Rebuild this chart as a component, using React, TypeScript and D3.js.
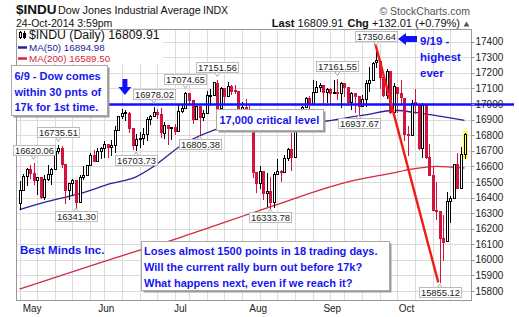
import React from "react";
import * as d3 from "d3";

const dates = [
  "04-28","04-29","04-30",
  "05-01","05-02","05-05","05-06","05-07","05-08","05-09","05-12","05-13","05-14","05-15","05-16","05-19","05-20","05-21","05-22","05-23","05-27","05-28","05-29","05-30",
  "06-02","06-03","06-04","06-05","06-06","06-09","06-10","06-11","06-12","06-13","06-16","06-17","06-18","06-19","06-20","06-23","06-24","06-25","06-26","06-27","06-30",
  "07-01","07-02","07-03","07-07","07-08","07-09","07-10","07-11","07-14","07-15","07-16","07-17","07-18","07-21","07-22","07-23","07-24","07-25","07-28","07-29","07-30","07-31",
  "08-01","08-04","08-05","08-06","08-07","08-08","08-11","08-12","08-13","08-14","08-15","08-18","08-19","08-20","08-21","08-22","08-25","08-26","08-27","08-28","08-29",
  "09-02","09-03","09-04","09-05","09-08","09-09","09-10","09-11","09-12","09-15","09-16","09-17","09-18","09-19","09-22","09-23","09-24","09-25","09-26","09-29","09-30",
  "10-01","10-02","10-03","10-06","10-07","10-08","10-09","10-10","10-13","10-14","10-15","10-16","10-17","10-20","10-21","10-22","10-23","10-24",
];

const opens = [
  16363, 16449, 16535,
  16581, 16560, 16510, 16530, 16401, 16519, 16550, 16584, 16696, 16716, 16613, 16446, 16490, 16511, 16374, 16533, 16544, 16607, 16676, 16634, 16699,
  16718, 16742, 16722, 16737, 16836, 16924, 16943, 16945, 16843, 16734, 16776, 16781, 16808, 16907, 16921, 16946, 16937, 16817, 16867, 16846, 16852,
  16828, 16956, 16977, 17068, 17024, 16907, 16985, 16915, 16944, 17055, 17061, 17138, 16977, 17100, 17052, 17113, 17087, 17084, 16961, 16983, 16912, 16880,
  16561, 16494, 16568, 16428, 16444, 16368, 16554, 16569, 16561, 16652, 16713, 16663, 16839, 16919, 16979, 17039, 17002, 17077, 17107, 17120, 17080,
  17098, 17069, 17078, 17070, 17137, 17111, 17014, 17068, 17049, 16988, 17031, 17132, 17157, 17267, 17279, 17172, 17056, 17209, 16947, 17112, 17071,
  17041, 16806, 16802, 17010, 16991, 16719, 16994, 16659, 16544, 16322, 16316, 16142, 16119, 16380, 16400, 16616, 16462, 16678,
];

const highs = [
  16505, 16548, 16588,
  16610, 16620.06, 16533, 16531, 16545, 16610, 16590, 16705, 16735.51, 16729, 16614, 16492, 16520, 16514, 16543, 16601, 16607, 16688, 16704, 16716, 16725,
  16761, 16742, 16767, 16862, 16925, 16970, 16963, 16946, 16844, 16810, 16818, 16849, 16914, 16928, 16978.02, 16970, 16975, 16883, 16867, 16854, 16874,
  16999, 16992, 17074.65, 17068, 17024, 16986, 16985, 16959, 17084, 17098, 17141, 17151.56, 17111, 17100, 17142, 17119, 17124, 17084, 17016, 17033, 16990, 16881,
  16563, 16600, 16570, 16555, 16530, 16561, 16645, 16577, 16673, 16720, 16812, 16863, 16928, 16990, 17046, 17054, 17153, 17145, 17137, 17122, 17106,
  17100, 17151, 17161.55, 17140, 17137, 17112, 17074, 17068, 17049, 17061, 17153, 17237, 17267, 17350.64, 17280, 17172, 17222, 17210, 17138, 17112, 17153,
  17041, 16861, 17027, 17099, 16992, 17006, 16994, 16742, 16598, 16501, 16316, 16287, 16438, 16410, 16615, 16687, 16724, 16816,
];

const lows = [
  16326, 16449, 16483,
  16527, 16489, 16425, 16394, 16390, 16512, 16485, 16584, 16684, 16595, 16367, 16393, 16414, 16341.3, 16374, 16516, 16544, 16607, 16633, 16634, 16651,
  16662, 16659, 16670, 16692, 16836, 16910, 16897, 16823, 16712, 16703.73, 16722, 16744, 16768, 16872, 16921, 16913, 16789, 16781, 16744, 16777, 16810,
  16828, 16947, 16977, 17001, 16877, 16907, 16805.38, 16896, 16944, 16992, 17061, 16954, 16977, 16996, 17052, 17064, 17069, 16934, 16892, 16897, 16850, 16534,
  16433, 16460, 16393, 16348, 16333.78, 16340, 16554, 16509, 16561, 16638, 16576, 16663, 16839, 16877, 16979, 16964, 17002, 17076, 17085, 17007, 17010,
  17003, 17069, 17030, 16980, 17053, 16999, 16965, 16950, 16937.67, 16988, 16986, 17082, 17157, 17235, 17102, 17054, 17038, 16942, 16947, 16946, 16999,
  16767, 16671, 16802, 16941, 16711, 16657, 16654, 16542, 16321, 16265, 15855.12, 15997, 16119, 16243, 16400, 16461, 16462, 16655,
];

const closes = [
  16448.74, 16535.37, 16580.84,
  16558.87, 16512.89, 16530.55, 16401.02, 16518.54, 16550.97, 16583.34, 16695.47, 16715.44, 16613.97, 16446.81, 16491.31, 16511.86, 16374.31, 16533.06, 16543.08, 16606.27, 16675.5, 16633.18, 16698.74, 16717.17,
  16743.63, 16722.34, 16737.53, 16836.11, 16924.28, 16943.1, 16945.92, 16843.88, 16734.19, 16775.74, 16781.01, 16808.49, 16906.62, 16921.46, 16947.08, 16937.26, 16818.13, 16867.51, 16846.13, 16851.84, 16826.6,
  16956.07, 16976.24, 17068.26, 17024.21, 16906.62, 16985.61, 16915.07, 16943.81, 17055.42, 17060.68, 17138.2, 16976.81, 17100.18, 17051.73, 17113.54, 17086.63, 17083.8, 16960.57, 16982.59, 16912.11, 16880.36, 16563.3,
  16493.37, 16569.28, 16429.47, 16443.34, 16368.27, 16553.93, 16569.98, 16560.54, 16651.8, 16713.58, 16662.91, 16838.74, 16919.59, 16979.13, 17039.49, 17001.22, 17076.87, 17106.7, 17122.01, 17079.57, 17098.45,
  17067.56, 17078.28, 17069.58, 17137.36, 17111.42, 17013.87, 17068.71, 17049.0, 16987.51, 17031.14, 17131.97, 17156.85, 17265.99, 17279.74, 17172.68, 17055.87, 17210.06, 16945.8, 17113.15, 17071.22, 17042.9,
  16804.71, 16801.05, 17009.69, 16991.91, 16719.39, 16994.22, 16659.25, 16544.1, 16321.07, 16315.19, 16141.74, 16117.24, 16380.41, 16399.67, 16614.81, 16461.32, 16677.9, 16809.91,
];

// moving averages at selected trading days
const ma50Idx = [0, 8, 17, 26, 33, 38, 46, 56, 66, 76, 87, 94, 98, 106, 115, 121, 126];
const ma50Val = [16322, 16375, 16425, 16490, 16533, 16600, 16737, 16840, 16900, 16880, 16891, 16917, 16930, 16960, 16935, 16915, 16894.98];
const ma200Idx = [0, 24, 45, 71, 93, 104, 112, 118, 126];
const ma200Val = [15812, 15990, 16140, 16340, 16501, 16550, 16585, 16600, 16589.5];

const yTicks = [15800, 15900, 16000, 16100, 16200, 16300, 16400, 16500, 16600, 16700, 16800, 16900, 17000, 17100, 17200, 17300, 17400];
const monthNames = ["Jan", "Feb", "Mar", "Apr", "May", "Jun", "Jul", "Aug", "Sep", "Oct", "Nov", "Dec"];

const labelIdx = [4, 11, 16, 33, 38, 47, 51, 56, 71, 90, 96, 101, 119];
const labelKind = ["high", "high", "low", "low", "high", "high", "low", "high", "low", "high", "low", "high", "low"];

const criticalLevel = 17000;
const noteLines = ["6/9 - Dow comes", "within 30 pnts of", "17k for 1st time."];
const bigNoteLines = [
  "Loses almost 1500 points in 18 trading days.",
  "Will the current rally burn out before 17k?",
  "What happens next, even if we reach it?",
];
const peakLines = ["9/19 -", "highest", "ever"];

const FONT = '"Liberation Sans", Arial, Helvetica, sans-serif';
const RED = "#d2143c";
const BLUE_TXT = "#1616f2";
const NAVY = "#23239c";
const MA200C = "#d6283e";
const GRID = "#dcdcdc";

export default function App() {
  const W = 519, H = 317;
  const L = 16.5, R = 471.5, T = 29.5, B = 300.5;
  const n = dates.length;
  const x = d3.scaleLinear().domain([0, n - 1]).range([19.5, 464.5]);
  const y = d3.scaleLinear().domain([15800, 17400]).range([291, 41.7]);
  const cr = (v: number) => Math.round(v) + 0.5;
  const dayOf = (d: string) => new Date(`2014-${d}T12:00:00`).getDay();
  const weekStarts = d3.range(n).filter((i) => i === 0 || dayOf(dates[i]) < dayOf(dates[i - 1]));
  const monthStarts = d3.range(1, n).filter((i) => dates[i].slice(0, 2) !== dates[i - 1].slice(0, 2));

  const ma50Path = d3
    .line<number>()
    .x((_, k) => x(ma50Idx[k]))
    .y((v) => y(v))
    .curve(d3.curveMonotoneX)(ma50Val) as string;
  const ma200Path = d3
    .line<number>()
    .x((_, k) => x(ma200Idx[k]))
    .y((v) => y(v))
    .curve(d3.curveMonotoneX)(ma200Val) as string;

  const last = closes[n - 1];
  const prev = closes[n - 2];
  const chg = last - prev;
  const pct = (chg / prev) * 100;

  const lastI = n - 1;
  const peakI = 101;
  const troughI = 119;

  return (
    <svg
      width={W}
      height={H}
      style={{ position: "absolute", left: 0, top: 0, background: "#fff" }}
      fontFamily={FONT}
    >
      <rect x={0} y={0} width={W} height={H} fill="#fff" />

      {/* header */}
      <text x={16} y={14} fontSize={13.5} fontWeight="bold" fill="#111">$INDU</text>
      <text x={58} y={14} fontSize={10.8} fill="#111">Dow Jones Industrial Average</text>
      <text x={203} y={14} fontSize={10.5} fill="#111">INDX</text>
      <text x={16} y={26.5} fontSize={10.5} fill="#111">24-Oct-2014 3:59pm</text>
      <text x={470} y={15} fontSize={10.5} fill="#555" textAnchor="end">© StockCharts.com</text>
      <text x={460} y={27} fontSize={11} fill="#111" textAnchor="end">
        <tspan fontWeight="bold">Last</tspan>
        <tspan> {last.toFixed(2)}</tspan>
        <tspan dx={4} fontWeight="bold">Chg</tspan>
        <tspan> {(chg >= 0 ? "+" : "") + chg.toFixed(2)} ({(pct >= 0 ? "+" : "") + pct.toFixed(2)}%)</tspan>
      </text>
      <path d="M463.5,26.5 L469.5,26.5 L466.5,21.5 Z" fill="#555" />

      {/* grid */}
      {yTicks.map((v) => (
        <line key={"h" + v} x1={L} x2={R} y1={cr(y(v))} y2={cr(y(v))} stroke={GRID} strokeWidth={1} />
      ))}
      {weekStarts.map((i) => (
        <line key={"v" + i} x1={cr(x(i))} x2={cr(x(i))} y1={T} y2={B} stroke={GRID} strokeWidth={1} />
      ))}
      <rect x={L} y={T} width={R - L} height={B - T} fill="none" stroke="#999" strokeWidth={1} />

      {/* moving averages */}
      <path d={ma200Path} fill="none" stroke={MA200C} strokeWidth={1.3} />
      <path d={ma50Path} fill="none" stroke={NAVY} strokeWidth={1.3} />

      {/* last bar highlight */}
      <rect
        x={Math.round(x(lastI)) - 2}
        y={y(highs[lastI]) - 2}
        width={5}
        height={y(lows[lastI]) - y(highs[lastI]) + 3}
        fill="#ffff55"
      />

      {/* candles */}
      {dates.map((d, i) => {
        const o = opens[i], c = closes[i], hi = highs[i], lo = lows[i];
        const up = c >= o;
        const col = up ? "#000" : RED;
        const cx = Math.round(x(i));
        const top = Math.round(y(Math.max(o, c)));
        const bot = Math.round(y(Math.min(o, c)));
        return (
          <g key={d}>
            <line x1={cx + 0.5} x2={cx + 0.5} y1={Math.round(y(hi))} y2={Math.round(y(lo)) + 1} stroke={col} strokeWidth={1} />
            <rect
              x={cx - 0.5}
              y={top + 0.5}
              width={2}
              height={Math.max(1, bot - top)}
              fill={up ? (i === lastI ? "#ffff55" : "#fff") : RED}
              stroke={col}
              strokeWidth={1}
            />
          </g>
        );
      })}

      {/* 17,000 line */}
      <line x1={L} x2={514} y1={y(criticalLevel) + 0.5} y2={y(criticalLevel) + 0.5} stroke="#1010ff" strokeWidth={2.5} />

      {/* trend line from peak to trough */}
      <line
        x1={x(peakI) - 1}
        y1={y(highs[peakI]) - 6}
        x2={x(troughI) - 1.5}
        y2={y(lows[troughI])}
        stroke="#f21a12"
        strokeWidth={2.4}
      />

      {/* legend */}
      <rect x={17} y={30} width={146} height={34} fill="#fff" />
      <line x1={20.5} x2={20.5} y1={31} y2={39} stroke="#000" />
      <rect x={19.5} y={32.5} width={2} height={5} fill="#fff" stroke="#000" />
      <line x1={24.5} x2={24.5} y1={31} y2={39} stroke="#000" />
      <rect x={23.5} y={33.5} width={2} height={4} fill="#000" stroke="#000" />
      <text x={29} y={39} fontSize={12.3} fill="#111">$INDU (Daily) {last.toFixed(2)}</text>
      <line x1={18} x2={27} y1={47.5} y2={47.5} stroke={NAVY} strokeWidth={2.5} />
      <text x={29} y={50.7} fontSize={9.8} fill={NAVY}>MA(50) {ma50Val[ma50Val.length - 1].toFixed(2)}</text>
      <line x1={18} x2={27} y1={58.5} y2={58.5} stroke={MA200C} strokeWidth={2.5} />
      <text x={29} y={62} fontSize={9.8} fill={MA200C}>MA(200) {ma200Val[ma200Val.length - 1].toFixed(2)}</text>

      {/* 6/9 note */}
      <rect x={13.5} y={67.5} width={96} height={50} fill="#9a9a9a" />
      <rect x={11.5} y={65.5} width={96} height={50} fill="#fff" stroke="#aaa" strokeWidth={1} />
      {noteLines.map((t, k) => (
        <text key={t} x={14.5} y={80 + k * 15.7} fontSize={11} fontWeight="bold" fill={BLUE_TXT}>{t}</text>
      ))}
      {/* down arrow at 6/9 */}
      <path d={`M${x(29) + 0.5},79 h5 v8 h4 l-6.5,8 l-6.5,-8 h4 Z`} fill="#1010ff" />

      {/* 17,000 note */}
      <rect x={218.5} y={111.5} width={107} height={21} fill="#9a9a9a" />
      <rect x={216.5} y={109.5} width={107} height={21} fill="#fff" stroke="#aaa" strokeWidth={1} />
      <text x={219.5} y={124} fontSize={11} fontWeight="bold" fill={BLUE_TXT}>17,000 critical level</text>

      {/* big note */}
      <rect x={143.5} y={243.5} width={248} height={49} fill="#9a9a9a" />
      <rect x={141.5} y={241.5} width={248} height={49} fill="#fff" stroke="#aaa" strokeWidth={1} />
      {bigNoteLines.map((t, k) => (
        <text key={t} x={144} y={254.7 + k * 16.3} fontSize={11} fontWeight="bold" fill={BLUE_TXT}>{t}</text>
      ))}

      <text x={20} y={254} fontSize={11.5} fontWeight="bold" fill={BLUE_TXT}>Best Minds Inc.</text>

      {/* 9/19 note */}
      {peakLines.map((t, k) => (
        <text key={t} x={420} y={44.5 + k * 16} fontSize={11.5} fontWeight="bold" fill={BLUE_TXT}>{t}</text>
      ))}
      <path d="M398,39 l8,-6 v3 h11 v6 h-11 v3 Z" fill="#1010ff" />

      {/* high / low labels */}
      {labelIdx.map((i, k) => {
        const isHigh = labelKind[k] === "high";
        const v = isHigh ? highs[i] : lows[i];
        const cx = x(i);
        const bw = 42, bh = 10;
        const top = isHigh ? y(v) - 8 - bh : y(v) + 4.5;
        const bx = Math.round(cx - bw / 2) + 0.5;
        const by = Math.round(top) + 0.5;
        const tail = isHigh
          ? `M${cx - 2.5},${by + bh} L${cx},${by + bh + 4} L${cx + 2.5},${by + bh}`
          : `M${cx - 2.5},${by} L${cx},${by - 3.5} L${cx + 2.5},${by}`;
        return (
          <g key={"lab" + i}>
            <path d={tail} fill="#fff" stroke="#aaa" strokeWidth={1} />
            <rect x={bx} y={by} width={bw} height={bh} fill="#fff" stroke="#bbb" strokeWidth={1} />
            <text x={bx + bw / 2} y={by + 8.3} fontSize={9.4} fill="#222" textAnchor="middle">{v.toFixed(2)}</text>
          </g>
        );
      })}

      {/* right axis */}
      {yTicks.map((v) => (
        <g key={"yt" + v}>
          <line x1={R} x2={R + 3} y1={cr(y(v))} y2={cr(y(v))} stroke="#999" />
          <text x={475.5} y={y(v) + 3.6} fontSize={10} fill="#222">{v}</text>
        </g>
      ))}

      {/* month labels */}
      {monthStarts.map((i) => (
        <text key={"m" + i} x={x(i) + 2} y={312} fontSize={10} fill="#222" textAnchor="middle">
          {monthNames[parseInt(dates[i].slice(0, 2), 10) - 1]}
        </text>
      ))}
    </svg>
  );
}
